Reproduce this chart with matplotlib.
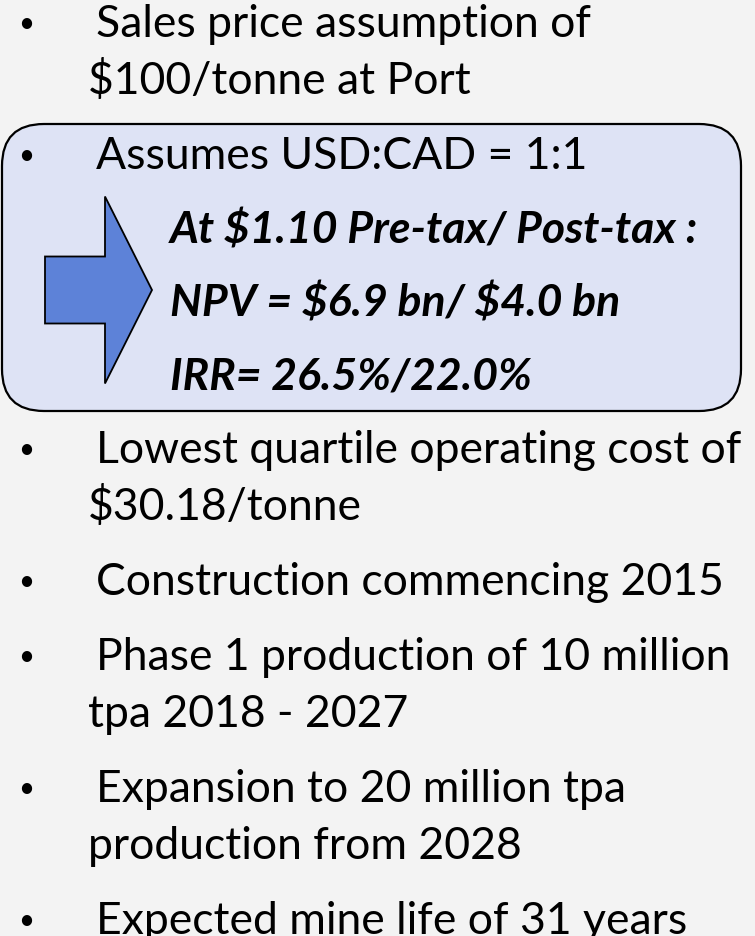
import matplotlib
matplotlib.use("Agg")
import matplotlib.pyplot as plt
from matplotlib.patches import FancyBboxPatch, Polygon

# slide text, top to bottom
bullets_top = [["Sales price assumption of", "$100/tonne at Port"]]
box_bullet = "Assumes USD:CAD = 1:1"
box_lines = ["At $1.10 Pre-tax/ Post-tax :",
             "NPV = $6.9 bn/ $4.0 bn",
             "IRR= 26.5%/22.0%"]
bullets_bottom = [["Lowest quartile operating cost of", "$30.18/tonne"],
                  ["Construction commencing 2015"],
                  ["Phase 1 production of 10 million", "tpa 2018 - 2027"],
                  ["Expansion to 20 million tpa", "production from 2028"],
                  ["Expected mine life of 31 years"]]

W, H = 755, 937
FONT = "Lato"
SIZE = 32
BG = "#f3f3f3"
BOX_FILL = "#dee3f5"
ARROW_FILL = "#5d82d8"

fig = plt.figure(figsize=(W / 100, H / 100), dpi=100)
fig.patch.set_facecolor(BG)
ax = fig.add_axes([0, 0, 1, 1])
ax.set_xlim(0, W)
ax.set_ylim(H, 0)
ax.axis("off")


def bullet_block(lines, y, x_bullet=26, x_first=96, x_cont=88, gap=57):
    ax.text(x_bullet, y - 5, "\u2022", fontsize=20, family=FONT,
            ha="center", va="baseline", color="black", parse_math=False)
    for i, line in enumerate(lines):
        ax.text(x_first if i == 0 else x_cont, y + i * gap, line,
                fontsize=SIZE, family=FONT, ha="left", va="baseline",
                color="black", parse_math=False)
    return y + (len(lines) - 1) * gap


# highlighted box
box = FancyBboxPatch((2, 125), 739, 287,
                     boxstyle="round,pad=0,rounding_size=42",
                     facecolor=BOX_FILL, edgecolor="black", linewidth=1.6)
ax.add_patch(box)

# block arrow pointing right
shaft_l, head_x, tip_x = 45, 105, 152
cy, shaft_h, head_h = 291, 67, 187
arrow = Polygon([(shaft_l, cy - shaft_h / 2), (head_x, cy - shaft_h / 2),
                 (head_x, cy - head_h / 2), (tip_x, cy),
                 (head_x, cy + head_h / 2), (head_x, cy + shaft_h / 2),
                 (shaft_l, cy + shaft_h / 2)],
                closed=True, facecolor=ARROW_FILL, edgecolor="black",
                linewidth=1.3)
ax.add_patch(arrow)

# top bullet
bullet_block(bullets_top[0], 37)

# box content
bullet_block([box_bullet], 169)
for i, line in enumerate(box_lines):
    ax.text(170, 243 + i * 73.5, line, fontsize=SIZE, family=FONT,
            weight="bold", style="italic", ha="left", va="baseline",
            color="black", parse_math=False)

# remaining bullets
y = 463
for lines in bullets_bottom:
    last = bullet_block(lines, y)
    y = last + 75

fig.savefig("out.png", dpi=100, facecolor=BG)
